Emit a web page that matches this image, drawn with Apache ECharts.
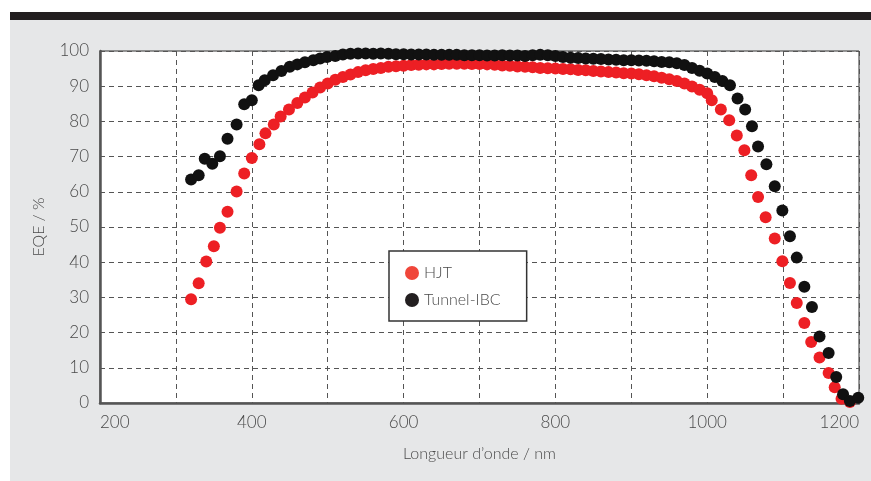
<!DOCTYPE html>
<html>
<head>
<meta charset="utf-8">
<script src="https://cdn.jsdelivr.net/npm/echarts@6/dist/echarts.min.js"></script>
<style>
html,body{margin:0;padding:0;background:#fff;}
#c{width:871px;height:481px;}
</style>
</head>
<body>
<div id="c"></div>
<script>
// HJT series: wavelength (nm) and EQE (%)
const hjtWl = [320,330,340,350,358,368,380,390,400,410,418,429,438,449,460,470,480,490,500,510,520,530,540,550,560,570,580,590,600,610,620,630,640,650,660,670,680,690,700,710,720,730,740,750,760,770,780,790,800,810,820,830,840,850,860,870,880,890,900,910,920,930,940,950,960,970,980,990,1000,1006,1018,1029,1039,1049,1058,1067,1077,1089,1099,1109,1118,1128,1137,1148,1160,1168,1177,1188];
const hjtEqe = [29.5,34,40.2,44.5,49.8,54.3,60.1,65.2,69.6,73.5,76.6,79.1,81.4,83.4,85.2,86.8,88.2,89.6,90.8,91.8,92.6,93.3,94.0,94.5,94.9,95.2,95.5,95.7,95.8,96.0,96.1,96.2,96.2,96.3,96.4,96.4,96.4,96.3,96.3,96.2,96.1,95.9,95.8,95.6,95.5,95.4,95.2,95.1,95.0,94.9,94.8,94.6,94.5,94.3,94.2,94.0,93.9,93.7,93.6,93.4,93.1,92.8,92.4,92.0,91.5,90.8,89.9,89.0,88.0,86.0,83.4,80.3,76.0,71.8,64.7,58.5,52.8,46.7,40.3,34.1,28.4,22.7,17.3,12.9,8.5,4.5,1.2,0.3];

// Tunnel-IBC series
const ibcWl = [320,330,338,348,358,368,380,390,400,409,417,428,439,450,460,470,481,490,499,510,520,530,540,550,560,570,580,590,600,610,620,630,640,650,660,670,680,690,700,710,720,730,740,750,760,770,780,790,800,810,820,830,840,850,860,870,880,890,900,910,920,930,940,950,960,970,980,990,1000,1010,1020,1030,1040,1050,1059,1067,1078,1089,1099,1109,1118,1128,1138,1148,1160,1170,1179,1188,1199];
const ibcEqe = [63.5,64.7,69.4,68.0,70.1,75.1,79.1,84.9,86.0,90.3,91.7,93.1,94.3,95.5,96.2,96.8,97.4,97.9,98.3,98.6,99.0,99.2,99.3,99.3,99.2,99.3,99.2,99.1,99.1,99.0,99.0,99.0,98.9,98.9,98.9,98.9,98.8,98.8,98.8,98.7,98.7,98.8,98.7,98.7,98.6,98.8,98.9,98.8,98.6,98.3,98.1,98.0,97.9,97.8,97.7,97.6,97.5,97.4,97.4,97.3,97.2,97.1,96.9,96.8,96.5,96.0,95.2,94.4,93.6,92.6,91.5,90.3,86.5,83.4,78.6,72.9,67.8,61.6,54.7,47.4,41.3,33.0,27.3,18.9,14.2,7.4,2.5,0.6,1.5];

const seriesNames = ['HJT','Tunnel-IBC'];
const xTickLabels = [200,400,600,800,1000,1200];
const yTickLabels = [0,10,20,30,40,50,60,70,80,90,100];

const zip = (a,b) => a.map((v,i)=>[v,b[i]]);
const FONT = 'Lato, "Open Sans", sans-serif';
const TXT = '#4a4a4a';
const FW = 300;

const chart = echarts.init(document.getElementById('c'), null, {renderer:'canvas'});
chart.setOption({
  animation:false,
  backgroundColor:'#fff',
  graphic:[
    {type:'rect', z:-10, shape:{x:10,y:20,width:861,height:461}, style:{fill:'#e6e7e8'}, silent:true},
    {type:'rect', z:-10, shape:{x:10,y:12,width:861,height:8}, style:{fill:'#231f20'}, silent:true}
  ],
  grid:{left:100,right:12,top:51,bottom:78,show:true,backgroundColor:'#fff',borderColor:'#333',borderWidth:1},
  legend:{
    orient:'vertical', left:389, top:251,
    padding:[14,26,13,16], itemGap:11, itemWidth:14, itemHeight:14,
    backgroundColor:'#fff', borderColor:'#333', borderWidth:1.5, borderRadius:0,
    textStyle:{fontFamily:FONT,fontSize:16,fontWeight:FW,color:TXT},
    data:[
      {name:seriesNames[0], icon:'circle', itemStyle:{color:'#f0463a'}},
      {name:seriesNames[1], icon:'circle', itemStyle:{color:'#231f20'}}
    ]
  },
  xAxis:{
    type:'value', min:200, max:1200, interval:100,
    name:'Longueur d\u2019onde / nm', nameLocation:'middle', nameGap:43,
    nameTextStyle:{fontFamily:FONT,fontSize:16,fontWeight:FW,color:TXT},
    axisLine:{show:true,onZero:false,lineStyle:{color:'#555',width:2.5}},
    axisTick:{show:false},
    axisLabel:{fontFamily:FONT,fontSize:17,fontWeight:FW,color:TXT,margin:11,alignMinLabel:'left',alignMaxLabel:'right',
      formatter:v=> xTickLabels.indexOf(v)>=0 ? String(v) : ''},
    splitLine:{show:true,lineStyle:{color:'#555',width:1,type:[5,4]}}
  },
  yAxis:{
    type:'value', min:0, max:100, interval:10,
    name:'EQE / %', nameLocation:'middle', nameGap:53,
    nameTextStyle:{fontFamily:FONT,fontSize:16,fontWeight:FW,color:TXT},
    axisLine:{show:true,lineStyle:{color:'#555',width:2.5}},
    axisTick:{show:false},
    axisLabel:{fontFamily:FONT,fontSize:17,fontWeight:FW,color:TXT,margin:11,
      formatter:v=> yTickLabels.indexOf(v)>=0 ? String(v) : ''},
    splitLine:{show:true,lineStyle:{color:'#555',width:1,type:[5,4]}}
  },
  series:[
    {name:seriesNames[0], type:'scatter', symbol:'circle', symbolSize:12,
     itemStyle:{color:'#ed1f24',opacity:1}, data:zip(hjtWl,hjtEqe)},
    {name:seriesNames[1], type:'scatter', symbol:'circle', symbolSize:12,
     itemStyle:{color:'#111111',opacity:1}, data:zip(ibcWl,ibcEqe)}
  ]
});
</script>
</body>
</html>
